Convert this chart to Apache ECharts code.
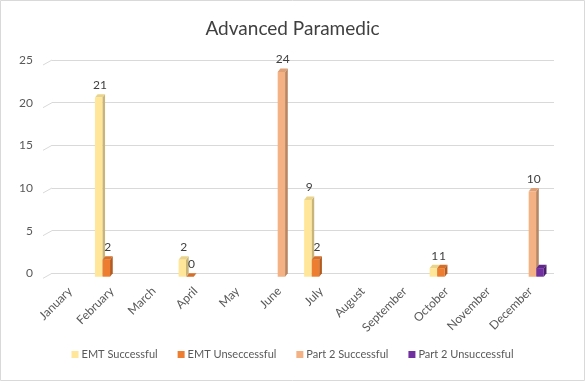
<!DOCTYPE html>
<html>
<head>
<meta charset="utf-8">
<script src="https://cdn.jsdelivr.net/npm/echarts@6/dist/echarts.min.js"></script>
<style>
html,body{margin:0;padding:0;background:#fff;}
#chart{width:585px;height:381px;}
</style>
</head>
<body>
<div id="chart"></div>
<script>
var months = ['January','February','March','April','May','June','July','August','September','October','November','December'];
var emtSuccessful   = [null, 21, null, 2, null, null, 9, null, null, 1, null, null];
var emtUnsuccessful = [null, 2, null, 0, null, null, 2, null, null, 1, null, null];
var part2Successful = [null, null, null, null, null, 24, null, null, null, null, null, 10];
var part2Unsuccessful = [null, null, null, null, null, null, null, null, null, null, null, 1];
var yTicks = [0, 5, 10, 15, 20, 25];
var seriesNames = ['EMT Successful', 'EMT Unseccessful', 'Part 2 Successful', 'Part 2 Unsuccessful'];

var FONT = 'Lato, "Liberation Sans", sans-serif';
var palette = [
  {front:'#FFE699', top:'#EAD38A', side:'#C8B577'},
  {front:'#ED7D31', top:'#D56F2A', side:'#B25C22'},
  {front:'#F4B183', top:'#DDA077', side:'#B88662'},
  {front:'#7030A0', top:'#5F288A', side:'#4A1F6C'}
];
var offsets = [-19.8, -12.1, -4.4, 3.3];
var showLabels = [true, true, true, false];

function toData(arr){
  var out = [];
  arr.forEach(function(v, i){ if (v !== null) out.push([i, v]); });
  return out;
}

function render3D(idx){
  return function(params, api){
    var cat = api.value(0), v = api.value(1);
    var top = api.coord([cat, v]);
    var base = api.coord([cat, 0]);
    var W = 7.4, D = 2.7, DY = 3.4;
    var x0 = top[0] + offsets[idx], x1 = x0 + W;
    var yT = top[1] + DY, yB = base[1] + DY;
    var c = palette[idx];
    var children = [
      {type:'polygon', shape:{points:[[x1,yT],[x1+D,yT-DY],[x1+D,yB-DY],[x1,yB]]}, style:{fill:c.side}},
      {type:'polygon', shape:{points:[[x0,yT],[x0+D,yT-DY],[x1+D,yT-DY],[x1,yT]]}, style:{fill:c.top}},
      {type:'rect', shape:{x:x0, y:yT, width:W, height:Math.max(0, yB-yT)}, style:{fill:c.front}}
    ];
    if (showLabels[idx]) {
      children.push({type:'text', style:{text:String(v), x:x0 + (W + D)/2, y:top[1] - 9,
        align:'center', verticalAlign:'middle', fill:'#404040', font:'12px ' + FONT}});
    }
    return {type:'group', children:children};
  };
}

var dataSets = [emtSuccessful, emtUnsuccessful, part2Successful, part2Unsuccessful];
var series = dataSets.map(function(arr, idx){
  return {
    name: seriesNames[idx], type:'custom', renderItem: render3D(idx),
    encode:{x:0, y:1}, data: toData(arr), z: 3 + idx
  };
});

series.push({
  name:'ticks', type:'custom', silent:true, z:1,
  data: yTicks.map(function(t){ return [0, t]; }),
  encode:{y:1},
  renderItem: function(params, api){
    var p = api.coord([0, api.value(1)]);
    var gx = params.coordSys.x;
    return {type:'line', shape:{x1:gx-9, y1:p[1]+5, x2:gx, y2:p[1]}, style:{stroke:'#d9d9d9', lineWidth:1}};
  }
});

var chart = echarts.init(document.getElementById('chart'), null, {renderer:'canvas'});
chart.setOption({
  animation:false,
  color: palette.map(function(p){ return p.front; }),
  textStyle:{fontFamily:FONT},
  title:{text:'Advanced Paramedic', left:'center', top:14,
    textStyle:{fontFamily:FONT, fontSize:19, fontWeight:'normal', color:'#404040'}},
  graphic:[{type:'rect', shape:{x:0.5, y:0.5, width:584, height:380}, style:{fill:null, stroke:'#d9d9d9', lineWidth:1}, silent:true}],
  legend:{data:seriesNames, bottom:16, left:'center', icon:'rect', itemWidth:7, itemHeight:7, itemGap:20,
    textStyle:{fontFamily:FONT, fontSize:11, color:'#595959', padding:[0,0,0,-2]}},
  grid:{left:52, right:31, top:60, bottom:107.7, containLabel:false},
  xAxis:{type:'category', data:months,
    axisLine:{show:false}, axisTick:{show:false},
    axisLabel:{rotate:45, interval:0, margin:13, padding:[0,4,0,0], fontFamily:FONT, fontSize:12, color:'#595959'}},
  yAxis:{type:'value', min:0, max:25, interval:5,
    axisLine:{show:false}, axisTick:{show:false},
    splitLine:{lineStyle:{color:'#d9d9d9', width:1}},
    axisLabel:{margin:19, padding:[10,0,0,0], fontFamily:FONT, fontSize:12, color:'#595959'}},
  series: series
});
</script>
</body>
</html>
